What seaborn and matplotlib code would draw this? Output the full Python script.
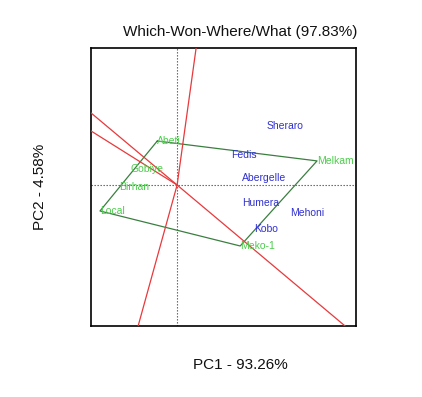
import numpy as np
import pandas as pd
import matplotlib
matplotlib.use("Agg")
import matplotlib.pyplot as plt
import seaborn as sns

# ---- data (biplot scores) ----
genotypes = ["Abeti", "Melkam", "Meko-1", "Local", "Gobiye", "Birhan"]
geno_pc1 = [-0.75, 5.28, 2.38, -2.91, -1.77, -2.19]
geno_pc2 = [1.66, 0.91, -2.30, -0.98, 0.60, -0.08]

environments = ["Sheraro", "Fedis", "Abergelle", "Humera", "Mehoni", "Kobo"]
env_pc1 = [4.08, 2.53, 3.28, 3.17, 4.91, 3.36]
env_pc2 = [2.23, 1.13, 0.26, -0.68, -1.06, -1.66]

hull_order = ["Abeti", "Melkam", "Meko-1", "Local", "Abeti"]

ray_dx = [19, -39, -86, -86, 168]
ray_dy = [137, -141, 72, 54, -141]

title = "Which-Won-Where/What (97.83%)"
xlab = "PC1 - 93.26%"
ylab = "PC2 - 4.58%"

sns.set_theme(style="white")
plt.rcParams["font.family"] = ["Liberation Sans", "DejaVu Sans"]

fig = plt.figure(figsize=(4.22, 3.97), dpi=100)
ax = fig.add_axes([0.2156, 0.1788, 0.628, 0.7003])

xlim = (-3.25, 6.75)
ylim = (-5.32, 5.17)

# dotted reference lines
ax.axvline(0, color="#555555", linestyle=(0, (1.2, 1.5)), linewidth=0.8, zorder=1)
ax.axhline(0, color="#555555", linestyle=(0, (1.2, 1.5)), linewidth=0.8, zorder=1)

# polygon
gdf = pd.DataFrame({"name": genotypes, "pc1": geno_pc1, "pc2": geno_pc2}).set_index("name")
hull = gdf.loc[hull_order].reset_index()
sns.lineplot(data=hull, x="pc1", y="pc2", sort=False, estimator=None,
             color="#3a7f3f", linewidth=0.9, ax=ax, zorder=2)

# rays
for dx, dy in zip(ray_dx, ray_dy):
    d = np.array([dx, dy], float)
    d = d / np.linalg.norm(d) * 20
    ray = pd.DataFrame({"x": [0, d[0]], "y": [0, d[1]]})
    sns.lineplot(data=ray, x="x", y="y", sort=False, estimator=None,
                 color="#e8393c", linewidth=0.9, ax=ax, zorder=3)

# labels
for n, x, y in zip(genotypes, geno_pc1, geno_pc2):
    ax.text(x, y, n, color="#4ccc4c", fontsize=7.5, ha="left", va="center", zorder=4)
for n, x, y in zip(environments, env_pc1, env_pc2):
    ax.text(x, y, n, color="#3030d0", fontsize=7.5, ha="center", va="center", zorder=4)

ax.set_xlim(*xlim)
ax.set_ylim(*ylim)
ax.set_xticks([])
ax.set_yticks([])
ax.set_xlabel("")
ax.set_ylabel("")
for s in ax.spines.values():
    s.set_visible(True)
    s.set_color("black")
    s.set_linewidth(1.2)

fig.text(240 / 422, 1 - 32 / 397, title, ha="center", va="center", fontsize=11, color="#111111")
fig.text(240 / 422, 1 - 365 / 397, xlab, ha="center", va="center", fontsize=11, color="#111111")
fig.text(40 / 422, 1 - 187 / 397, ylab, ha="center", va="center", fontsize=11,
         rotation=90, color="#111111")

fig.savefig("out.png", dpi=100, facecolor="white")
